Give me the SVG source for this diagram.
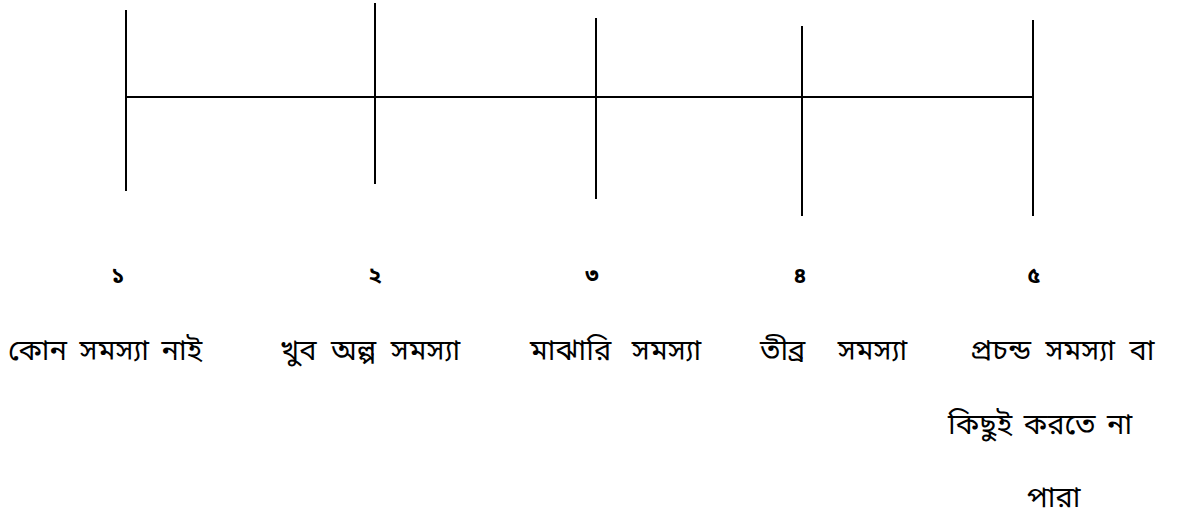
<svg xmlns="http://www.w3.org/2000/svg" width="1180" height="518" viewBox="0 0 1180 518">
<style>
.ln{stroke:#000;stroke-width:2;fill:none}
.num{font-family:"Noto Sans Bengali","Noto Sans","Liberation Sans",sans-serif;font-size:22px;font-weight:bold;fill:#000;text-anchor:middle}
.lbl{font-family:"Noto Sans Bengali","Noto Sans","Liberation Sans",sans-serif;font-size:29px;font-weight:normal;fill:#000}
</style>
<rect width="1180" height="518" fill="#fff"/>
<g id="connectors">
<line class="ln" x1="126" y1="97" x2="1033" y2="97"/>
</g>
<g id="tick1"><line class="ln" x1="126" y1="10" x2="126" y2="191"/></g>
<g id="tick2"><line class="ln" x1="375" y1="3" x2="375" y2="184"/></g>
<g id="tick3"><line class="ln" x1="596" y1="18" x2="596" y2="199"/></g>
<g id="tick4"><line class="ln" x1="802" y1="26" x2="802" y2="216"/></g>
<g id="tick5"><line class="ln" x1="1033" y1="20" x2="1033" y2="216"/></g>
<g id="n1"><text class="num" x="118" y="283">১</text></g>
<g id="n2"><text class="num" x="375" y="283">২</text></g>
<g id="n3"><text class="num" x="592" y="283">৩</text></g>
<g id="n4"><text class="num" x="800" y="283">৪</text></g>
<g id="n5"><text class="num" x="1034" y="283">৫</text></g>
<g id="l1"><text class="lbl" x="8" y="360" word-spacing="5">কোন সমস্যা নাই</text></g>
<g id="l2"><text class="lbl" x="280" y="360" word-spacing="7">খুব অল্প সমস্যা</text></g>
<g id="l3"><text class="lbl" x="530" y="360" word-spacing="13">মাঝারি সমস্যা</text></g>
<g id="l4"><text class="lbl" x="760" y="360" word-spacing="25">তীব্র সমস্যা</text></g>
<g id="l5">
<text class="lbl" x="970" y="360" word-spacing="7">প্রচন্ড সমস্যা বা</text>
<text class="lbl" x="948" y="434" word-spacing="4">কিছুই করতে না</text>
<text class="lbl" x="1027" y="507">পারা</text>
</g>
</svg>
